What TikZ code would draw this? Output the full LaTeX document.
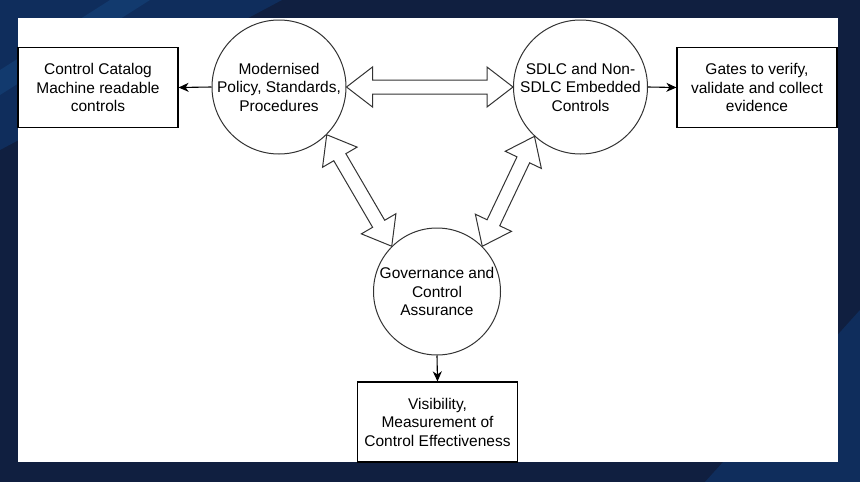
\documentclass[tikz,border=0pt]{standalone}
\usepackage{fontspec}
\setmainfont{Liberation Sans}
\usetikzlibrary{calc,arrows.meta}
\definecolor{navy}{HTML}{101F40}
\definecolor{navylight}{HTML}{0F2D5C}
\definecolor{navystripe}{HTML}{123A6E}
\definecolor{edgegray}{HTML}{333333}
\tikzset{
  txt/.style={font=\fontsize{15.5}{18.5}\selectfont, align=center, text=black},
  box/.style={draw=black, line width=1.2pt, fill=white, rectangle, minimum width=160pt, minimum height=80pt, inner sep=0pt, txt},
  circ/.style={draw=edgegray, line width=1pt, fill=white, circle, inner sep=0pt},
  conn/.style={draw=black, line width=1.1pt, -{Stealth[length=10pt,width=9pt,inset=3pt]}},
  blk/.style={draw=edgegray, line width=1pt, fill=white, line join=miter}
}
\newcommand{\blockarrow}[3]{%
  \coordinate (#1a) at (#2);
  \coordinate (#1b) at (#3);
  \coordinate (#1A) at ($(#1a)!26pt!(#1b)$);
  \coordinate (#1B) at ($(#1b)!26pt!(#1a)$);
  \draw[blk] (#1a) -- ($(#1A)!20pt!90:(#1b)$) -- ($(#1A)!7pt!90:(#1b)$)
    -- ($(#1B)!7pt!-90:(#1a)$) -- ($(#1B)!20pt!-90:(#1a)$) -- (#1b)
    -- ($(#1B)!20pt!90:(#1a)$) -- ($(#1B)!7pt!90:(#1a)$)
    -- ($(#1A)!7pt!-90:(#1b)$) -- ($(#1A)!20pt!-90:(#1b)$) -- cycle;
}
\begin{document}
\begin{tikzpicture}[x=1pt,y=-1pt]
  \useasboundingbox (0,0) rectangle (860,482);
  % background
  \fill[navy] (0,0) rectangle (860,482);
  \fill[navylight] (0,0) -- (282,0) -- (0,150) -- cycle;
  \fill[navystripe] (110,0) -- (150,0) -- (0,95) -- (0,70) -- cycle;
  \fill[navylight] (705,482) -- (860,310) -- (860,482) -- cycle;
  % panel
  \fill[white] (18,18) rectangle (838,462);

  % circles
  \node[circ, minimum size=134pt, label={[name=t1, txt]center:Modernised\\Policy, Standards,\\Procedures}] (c1) at (279,87) {};
  \node[circ, minimum size=134pt, label={[name=t2, txt]center:SDLC and Non-\\SDLC Embedded\\Controls}] (c2) at (580.5,87) {};
  \node[circ, minimum size=127pt, label={[name=t3, txt]center:Governance and\\Control\\Assurance}] (c3) at (437,291.5) {};

  % boxes
  \node[box] (cat) at (98,87.5) {Control Catalog\\Machine readable\\controls};
  \node[box] (gates) at (757,87.5) {Gates to verify,\\validate and collect\\evidence};
  \node[box] (vis) at (437.5,422) {Visibility,\\Measurement of\\Control Effectiveness};

  % connectors
  \draw[conn] (c1.west) -- (cat.east);
  \draw[conn] (c2.east) -- (gates.west);
  \draw[conn] (c3.south) -- (vis.north);

  % block double arrows
  \blockarrow{h}{c1.east}{c2.west}
  \blockarrow{l}{c1.-45}{c3.135}
  \blockarrow{r}{c2.-133}{c3.45}
\end{tikzpicture}
\end{document}
